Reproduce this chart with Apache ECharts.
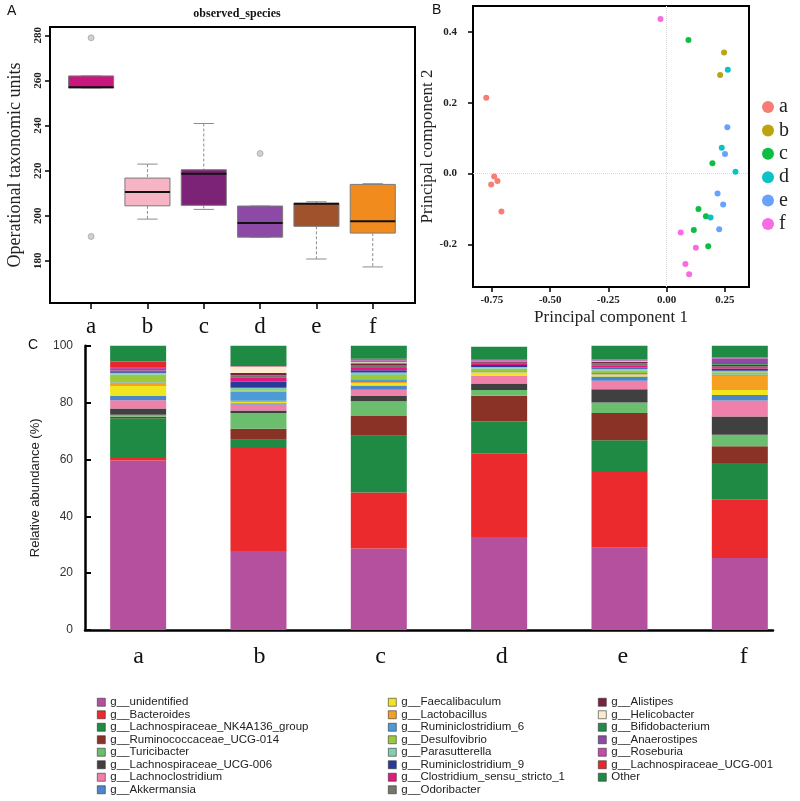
<!DOCTYPE html>
<html>
<head>
<meta charset="utf-8">
<script src="https://cdn.jsdelivr.net/npm/echarts@6/dist/echarts.min.js"></script>
<style>
html,body{margin:0;padding:0;background:#fff;}
#chart{width:800px;height:801px;}
</style>
</head>
<body>
<div id="chart"></div>
<script>
// ---------- shared ----------
const groups = ['a', 'b', 'c', 'd', 'e', 'f'];

// ---------- Panel A: observed_species boxplot ----------
const boxLow    = [256.7, 198.5, 202.8, 190.5, 180.8, 177.3];
const boxQ1     = [256.7, 204.4, 204.6, 190.5, 195.3, 192.3];
const boxMedian = [257.0, 210.5, 218.6, 196.8, 205.3, 197.6];
const boxQ3     = [262.0, 216.7, 220.4, 204.3, 205.5, 213.9];
const boxHigh   = [262.0, 222.9, 240.9, 204.3, 206.2, 214.2];
const boxOutlierGroup = ['a', 'a', 'd'];
const boxOutlierValue = [278.9, 190.8, 227.6];
const boxColors = ['#C8187E', '#F6B4C4', '#7C2277', '#8C4AA6', '#A0522D', '#F28B1E'];
const boxYTicks = [180, 200, 220, 240, 260, 280];

// ---------- Panel B: PCA ----------
const pcaA = [[-0.774, 0.214], [-0.740, -0.008], [-0.726, -0.021], [-0.753, -0.031], [-0.709, -0.107]];
const pcaB = [[0.247, 0.342], [0.230, 0.278]];
const pcaC = [[0.094, 0.377], [0.197, 0.029], [0.137, -0.100], [0.169, -0.120], [0.117, -0.159], [0.179, -0.205]];
const pcaD = [[0.263, 0.293], [0.237, 0.073], [0.296, 0.005], [0.189, -0.124]];
const pcaE = [[0.261, 0.131], [0.251, 0.055], [0.219, -0.056], [0.243, -0.087], [0.226, -0.157]];
const pcaF = [[-0.026, 0.436], [0.061, -0.166], [0.126, -0.209], [0.081, -0.255], [0.097, -0.284]];
const pcaColors = ['#F8766D', '#B79F00', '#00BA38', '#00BFC4', '#619CFF', '#F564E3'];
const pcaXTicks = [-0.75, -0.5, -0.25, 0, 0.25];
const pcaYTicks = [-0.2, 0, 0.2, 0.4];

// ---------- Panel C: relative abundance ----------
const genera = [
  'g__unidentified', 'g__Bacteroides', 'g__Lachnospiraceae_NK4A136_group', 'g__Ruminococcaceae_UCG-014',
  'g__Turicibacter', 'g__Lachnospiraceae_UCG-006', 'g__Lachnoclostridium', 'g__Akkermansia',
  'g__Faecalibaculum', 'g__Lactobacillus', 'g__Ruminiclostridium_6', 'g__Desulfovibrio',
  'g__Parasutterella', 'g__Ruminiclostridium_9', 'g__Clostridium_sensu_stricto_1', 'g__Odoribacter',
  'g__Alistipes', 'g__Helicobacter', 'g__Bifidobacterium', 'g__Anaerostipes',
  'g__Roseburia', 'g__Lachnospiraceae_UCG-001', 'Other'
];
const generaColors = [
  '#B5509E', '#EA2A2C', '#1F8A44', '#8A3226', '#6BBE6E', '#404040', '#EE80AA', '#4A86C8',
  '#F0E51F', '#F5A020', '#4C9BD6', '#9CC83D', '#7FCFB0', '#2A3A9A', '#E2197F', '#75766A',
  '#7E1F44', '#FBEBD0', '#228B45', '#8F4BA3', '#C44AAB', '#E8262B', '#1F8A44'
];
const abundanceA = [59.6, 0.9, 14.0, 0.5, 0.7, 2.2, 2.9, 1.5, 3.5, 1.2, 0.1, 2.7, 0.7, 0.5, 0.1, 0.1, 0.1, 0.0, 0.0, 0.5, 0.7, 1.9, 5.6];
const abundanceB = [27.8, 36.2, 2.9, 3.9, 5.5, 0.9, 2.1, 0.5, 0.4, 0.4, 3.3, 0.4, 0.9, 2.1, 1.6, 0.7, 0.8, 2.2, 0.1, 0.0, 0.1, 0.1, 7.1];
const abundanceC = [28.7, 19.7, 19.9, 7.0, 5.2, 1.8, 2.2, 1.5, 0.9, 0.3, 1.0, 1.5, 0.9, 0.8, 0.8, 1.0, 0.6, 0.4, 0.3, 0.3, 0.3, 0.3, 4.6];
const abundanceD = [32.7, 29.3, 11.3, 9.1, 2.0, 2.3, 2.6, 0.1, 1.2, 0.1, 0.3, 0.9, 0.6, 0.7, 0.4, 0.4, 0.4, 0.1, 0.1, 0.2, 0.2, 0.1, 4.5];
const abundanceE = [28.9, 26.7, 11.1, 9.6, 3.7, 4.7, 3.0, 1.5, 0.6, 0.2, 0.4, 0.8, 0.7, 0.4, 0.8, 0.7, 0.6, 0.2, 0.1, 0.2, 0.2, 0.1, 4.8];
const abundanceF = [25.3, 20.5, 12.9, 5.9, 4.1, 6.4, 5.6, 2.0, 1.7, 5.0, 0.5, 0.8, 0.5, 0.6, 0.3, 0.6, 0.5, 0.1, 0.6, 1.6, 0.3, 0.1, 4.1];

// ---------- build ----------
const SERIF = '"Liberation Serif","Times New Roman",serif';
const SANS = '"Liberation Sans",Arial,sans-serif';
const groupPos = groups.map((g, i) => i + 1);
const letterOf = v => groups[Math.round(v) - 1] || '';

const boxData = groups.map((g, i) => [i + 1, boxLow[i], boxQ1[i], boxMedian[i], boxQ3[i], boxHigh[i]]);
const outlierData = boxOutlierGroup.map((g, i) => [groups.indexOf(g) + 1, boxOutlierValue[i]]);

function renderBox(params, api) {
  const x = api.value(0);
  const pLow = api.coord([x, api.value(1)]);
  const pQ1 = api.coord([x, api.value(2)]);
  const pMed = api.coord([x, api.value(3)]);
  const pQ3 = api.coord([x, api.value(4)]);
  const pHigh = api.coord([x, api.value(5)]);
  const band = api.size([1, 0])[0];
  const hw = band * 0.4;
  const cap = band * 0.18;
  const cx = pLow[0];
  const wStyle = { stroke: '#8c8c8c', lineWidth: 1, lineDash: [3, 2] };
  const cStyle = { stroke: '#8c8c8c', lineWidth: 1 };
  return {
    type: 'group',
    children: [
      { type: 'line', shape: { x1: cx, y1: pHigh[1], x2: cx, y2: pQ3[1] }, style: wStyle },
      { type: 'line', shape: { x1: cx, y1: pQ1[1], x2: cx, y2: pLow[1] }, style: wStyle },
      { type: 'line', shape: { x1: cx - cap, y1: pHigh[1], x2: cx + cap, y2: pHigh[1] }, style: cStyle },
      { type: 'line', shape: { x1: cx - cap, y1: pLow[1], x2: cx + cap, y2: pLow[1] }, style: cStyle },
      { type: 'rect', shape: { x: cx - hw, y: pQ3[1], width: hw * 2, height: pQ1[1] - pQ3[1] },
        style: { fill: boxColors[params.dataIndex], stroke: '#7a7a7a', lineWidth: 1 } },
      { type: 'line', shape: { x1: cx - hw, y1: pMed[1], x2: cx + hw, y2: pMed[1] },
        style: { stroke: '#111', lineWidth: 2 } }
    ]
  };
}

const pcaSets = [pcaA, pcaB, pcaC, pcaD, pcaE, pcaF];
const scatterSeries = groups.map((g, i) => ({
  name: g, type: 'scatter', xAxisIndex: 1, yAxisIndex: 1,
  symbolSize: 6, itemStyle: { color: pcaColors[i], opacity: 0.95 },
  data: pcaSets[i], z: 5,
  markLine: i === 0 ? {
    silent: true, symbol: 'none', label: { show: false },
    lineStyle: { color: '#d9d9d9', type: 'dotted', width: 1 },
    data: [{ xAxis: 0 }, { yAxis: 0 }]
  } : undefined
}));

const abundanceSets = [abundanceA, abundanceB, abundanceC, abundanceD, abundanceE, abundanceF];
const barSeries = genera.map((name, k) => ({
  name: name, type: 'bar', stack: 'abund', xAxisIndex: 3, yAxisIndex: 3,
  barWidth: 56, itemStyle: { color: generaColors[k] },
  data: groups.map((g, i) => abundanceSets[i][k])
}));

const legendBase = {
  orient: 'vertical', icon: 'rect', itemWidth: 8, itemHeight: 8, itemGap: 0,
  selectedMode: false,
  itemStyle: { borderColor: '#333', borderWidth: 0.6 },
  textStyle: { fontFamily: SANS, fontSize: 11.5, color: '#222', lineHeight: 12.5 }
};

const option = {
  animation: false,
  backgroundColor: '#fff',
  title: {
    text: 'observed_species', left: 232, top: 3, textAlign: 'center',
    textStyle: { fontFamily: SERIF, fontSize: 12, fontWeight: 'bold', color: '#111' }
  },
  graphic: [
    { type: 'text', left: 7, top: 4, style: { text: 'A', font: '14px ' + SANS, fill: '#111' } },
    { type: 'text', left: 432, top: 3, style: { text: 'B', font: '14px ' + SANS, fill: '#111' } },
    { type: 'text', left: 28, top: 338, style: { text: 'C', font: '14px ' + SANS, fill: '#111' } }
  ],
  legend: [
    {
      data: groups, orient: 'vertical', left: 757, top: 92, icon: 'circle',
      itemWidth: 12, itemHeight: 12, itemGap: 3.4, selectedMode: false,
      textStyle: { fontFamily: SERIF, fontSize: 20, color: '#222', lineHeight: 20 }
    },
    Object.assign({}, legendBase, { left: 92, top: 691, data: genera.slice(0, 8) }),
    Object.assign({}, legendBase, { left: 383, top: 691, data: genera.slice(8, 16) }),
    Object.assign({}, legendBase, { left: 593, top: 691, data: genera.slice(16) })
  ],
  grid: [
    { left: 50, top: 27, width: 365, height: 276, show: true, borderColor: '#000', borderWidth: 2, backgroundColor: 'transparent' },
    { left: 473, top: 6, width: 276, height: 281, show: true, borderColor: '#000', borderWidth: 2, backgroundColor: 'transparent' },
    { left: 85, top: 345.7, width: 688, height: 284.3 },
    { left: 77.97, top: 345.7, width: 726.4, height: 284.3 }
  ],
  xAxis: [
    {
      gridIndex: 0, type: 'value', min: 0.27, max: 6.75,
      axisLine: { show: false, onZero: false }, splitLine: { show: false },
      axisTick: { show: true, customValues: groupPos, length: 6, lineStyle: { color: '#000', width: 1.5 } },
      axisLabel: { customValues: groupPos, formatter: letterOf, margin: 12,
        fontFamily: SERIF, fontSize: 23, color: '#111' }
    },
    {
      gridIndex: 1, type: 'value', min: -0.831, max: 0.354,
      axisLine: { show: false, onZero: false }, splitLine: { show: false },
      name: 'Principal component 1', nameLocation: 'middle', nameGap: 22,
      nameTextStyle: { fontFamily: SERIF, fontSize: 17, color: '#222' },
      axisTick: { show: true, customValues: pcaXTicks, length: 5, lineStyle: { color: '#000', width: 1.5 } },
      axisLabel: { customValues: pcaXTicks, formatter: v => v.toFixed(2), margin: 8,
        fontFamily: SERIF, fontSize: 11, fontWeight: 'bold', color: '#222' }
    },
    {
      gridIndex: 2, type: 'value', min: 0.558, max: 6.241,
      axisLine: { show: true, onZero: false, lineStyle: { color: '#000', width: 2.5 } },
      splitLine: { show: false }, axisTick: { show: false },
      axisLabel: { customValues: groupPos, formatter: letterOf, margin: 15,
        fontFamily: SERIF, fontSize: 24, color: '#111' }
    },
    {
      gridIndex: 3, type: 'category', data: groups, boundaryGap: true, show: false
    }
  ],
  yAxis: [
    {
      gridIndex: 0, type: 'value', min: 161.3, max: 283.7,
      axisLine: { show: false, onZero: false }, splitLine: { show: false },
      name: 'Operational taxonomic units', nameLocation: 'middle', nameGap: 26,
      nameTextStyle: { fontFamily: SERIF, fontSize: 18, color: '#222' },
      axisTick: { show: true, customValues: boxYTicks, length: 5, lineStyle: { color: '#000', width: 1.5 } },
      axisLabel: { customValues: boxYTicks, rotate: 90, margin: 6,
        fontFamily: SERIF, fontSize: 11, fontWeight: 'bold', color: '#222' }
    },
    {
      gridIndex: 1, type: 'value', min: -0.320, max: 0.473,
      axisLine: { show: false, onZero: false }, splitLine: { show: false },
      name: 'Principal component 2', nameLocation: 'middle', nameGap: 28,
      nameTextStyle: { fontFamily: SERIF, fontSize: 17, color: '#222' },
      axisTick: { show: true, customValues: pcaYTicks, length: 5, lineStyle: { color: '#000', width: 1.5 } },
      axisLabel: { customValues: pcaYTicks, formatter: v => v.toFixed(1), margin: 16,
        fontFamily: SERIF, fontSize: 11, fontWeight: 'bold', color: '#222' }
    },
    {
      gridIndex: 2, type: 'value', min: 0, max: 100, interval: 20,
      axisLine: { show: true, onZero: false, lineStyle: { color: '#000', width: 2.5 } },
      splitLine: { show: false },
      name: 'Relative abundance (%)', nameLocation: 'middle', nameGap: 40,
      nameTextStyle: { fontFamily: SANS, fontSize: 13, color: '#222' },
      axisTick: { show: true, inside: true, length: 6, lineStyle: { color: '#000', width: 2 } },
      axisLabel: { margin: 12, fontFamily: SANS, fontSize: 12, color: '#333' }
    },
    {
      gridIndex: 3, type: 'value', min: 0, max: 100, show: false, splitLine: { show: false }
    }
  ],
  series: [
    {
      name: 'observed_species', type: 'custom', xAxisIndex: 0, yAxisIndex: 0,
      renderItem: renderBox, data: boxData,
      encode: { x: 0, y: [1, 2, 3, 4, 5] }, z: 3
    },
    {
      name: 'outliers', type: 'scatter', xAxisIndex: 0, yAxisIndex: 0,
      symbolSize: 6, itemStyle: { color: '#c4c4c4', borderColor: '#999', borderWidth: 0.8 },
      data: outlierData, z: 4
    }
  ].concat(scatterSeries, barSeries)
};

const chart = echarts.init(document.getElementById('chart'), null, { renderer: 'canvas' });
chart.setOption(option);
</script>
</body>
</html>
